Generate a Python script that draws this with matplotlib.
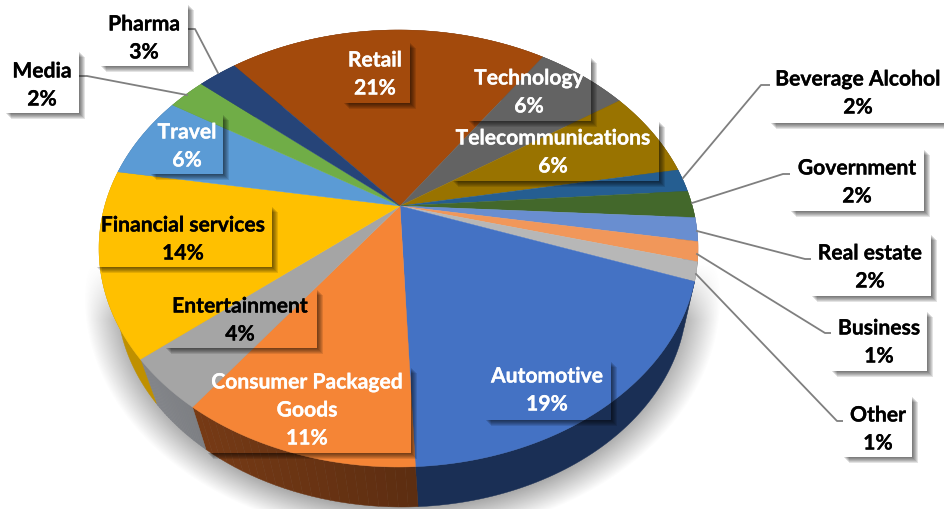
import numpy as np
import matplotlib
matplotlib.use("Agg")
import matplotlib.pyplot as plt
import matplotlib.patheffects as pe
from matplotlib.patches import Polygon, Rectangle

plt.rcParams["font.family"] = ["Lato", "DejaVu Sans"]

# Clockwise from the Retail slice
categories = ["Retail", "Technology", "Telecommunications", "Beverage Alcohol",
              "Government", "Real estate", "Business", "Other", "Automotive",
              "Consumer Packaged\nGoods", "Entertainment", "Financial services",
              "Travel", "Media", "Pharma"]
# Percentages as printed on the labels
percents = [21, 6, 6, 2, 2, 2, 1, 1, 19, 11, 4, 14, 6, 2, 3]
# Slice sizes, before the labels' rounding
values = [20.75, 6.0, 6.5, 1.7, 2.0, 1.75, 1.44, 1.39, 18.8, 10.8, 3.9, 13.7,
          6.2, 2.46, 2.54]

top_colors = ["#A34A0C", "#636363", "#997300", "#255E91", "#43682B", "#698ED0",
              "#F1975A", "#B7B7B7", "#4472C4", "#F58536", "#A5A5A5", "#FFC000",
              "#5B9BD5", "#70AD47", "#264478"]
side_colors = ["#6B300A", "#404040", "#6B5100", "#1A4266", "#2F491E", "#4A6492",
               "#A96A3F", "#808080", "#1A2F55", "#6E3614", "#74767A", "#BF9000",
               "#3F6D95", "#4E7932", "#1A3054"]

# label box: left, top, right, bottom, text centre x, first line y
label_boxes = [
    (343, 43, 410, 104, 375, 60), (468, 58, 591, 122, 529, 78),
    (452, 122, 659, 182, 553, 138), (770, 60, 950, 124, 858, 79),
    (790, 150, 924, 212, 857, 168), (811, 235, 931, 297, 870, 253),
    (831, 312, 927, 372, 879, 328), (843, 397, 912, 458, 878, 415),
    (485, 362, 611, 421, 547, 376), (207, 368, 411, 454, 307, 382),
    (165, 290, 317, 349, 240, 306), (96, 207, 272, 268, 183, 225),
    (150, 115, 223, 175, 187, 132), (5, 52, 79, 114, 42, 71),
    (100, 5, 188, 67, 144, 24),
]
outside = ["Beverage Alcohol", "Government", "Real estate", "Business", "Other",
           "Media", "Pharma"]
white_text = ["Retail", "Technology", "Telecommunications", "Travel",
              "Consumer Packaged\nGoods", "Automotive"]
# These two walls get lighter towards the left of the picture
shaded_walls = ["Consumer Packaged\nGoods", "Entertainment"]

leaders = {
    "Beverage Alcohol": [(683, 179), (761, 86), (772, 86)],
    "Government": [(692, 204), (783, 175), (793, 175)],
    "Real estate": [(697, 232), (805, 260), (815, 260)],
    "Business": [(697, 255), (825, 334), (835, 334)],
    "Other": [(696, 275), (837, 422), (847, 422)],
    "Media": [(187, 96), (87, 77), (76, 77)],
    "Pharma": [(218, 74), (195, 30), (185, 30)],
}

# Ellipse of the pie top and of the lower rim, in pixels
TOP = (398.5, 249.5, 299.5, 218.5)
BOTTOM = (402, 298, 285, 210)
TILT = 42.5 / 218.5
START_ANGLE = 130


def project(angles, ellipse):
    """Map circle angles (degrees) to the tilted pie seen in perspective."""
    cx, cy, a, b = ellipse
    u = np.cos(np.radians(angles))
    v = np.sin(np.radians(angles))
    x = cx + a * np.sqrt(1 - TILT**2) * u / (1 + TILT * v)
    y = cy - b * (v + TILT) / (1 + TILT * v)
    return np.column_stack([x, y])


def draw_shadow(ax, box):
    x0, y0, x1, y1 = box
    for d in range(1, 7):
        pts = [(x1, y0 + d), (x1 + d, y0 + d), (x1 + d, y1 + d),
               (x0 + d, y1 + d), (x0 + d, y1), (x1, y1)]
        ax.add_patch(Polygon(pts, fc="black", ec="none", alpha=0.11, zorder=5))


def draw_wall(ax, name, a0, a1, col):
    if name in shaded_walls:
        # short quads so the colour can change along the wall
        edges = np.linspace(a0, a1, 25)
        for e0, e1 in zip(edges[:-1], edges[1:]):
            arc = np.linspace(e0, e1, 4)
            upper = project(arc, TOP)
            pts = np.vstack([upper, project(arc[::-1], BOTTOM)])
            f = np.interp(upper[:, 0].mean(), [150, 416], [1.12, 0.84])
            shade = np.clip(np.array(matplotlib.colors.to_rgb(col)) * f, 0, 1)
            ax.add_patch(Polygon(pts, fc=shade, ec=shade, lw=0.3, zorder=1))
    else:
        arc = np.linspace(a0, a1, 60)
        pts = np.vstack([project(arc, TOP), project(arc[::-1], BOTTOM)])
        ax.add_patch(Polygon(pts, fc=col, ec=col, lw=0.3, zorder=1))


fig = plt.figure(figsize=(9.45, 5.1), dpi=100)
ax = fig.add_axes([0, 0, 1, 1])

# Soft shadow under the pie
yy, xx = np.mgrid[0:510, 0:945]
r = np.sqrt(((xx - 402) / 318) ** 2 + ((yy - 298) / 240) ** 2)
glow = np.clip((1.0 - r) / 0.15, 0, 1) * np.clip((yy - 265) / 55, 0, 1)
shadow = np.zeros((510, 945, 4))
shadow[..., :3] = 0.45
shadow[..., 3] = 0.75 * glow
ax.imshow(shadow, extent=(0, 945, 510, 0), aspect="auto", zorder=0)

# Slice angles, going clockwise
shares = np.array(values) / sum(values) * 360
ends = START_ANGLE - np.cumsum(shares)
starts = ends + shares

# Side walls first, the tops cover what should stay hidden
for name, a0, a1, col in zip(categories, starts, ends, side_colors):
    draw_wall(ax, name, a0, a1, col)

apex = np.array([[TOP[0] + 1.5, TOP[1] - TILT * TOP[3]]])
for a0, a1, col in zip(starts, ends, top_colors):
    arc = project(np.linspace(a0, a1, 60), TOP)
    ax.add_patch(Polygon(np.vstack([apex, arc]), fc=col, ec=col, lw=0.3, zorder=2))

for name, pts in leaders.items():
    xs, ys = zip(*pts)
    ax.plot(xs, ys, color="#7F7F7F", lw=1.3, zorder=4)

for name, val, lay in zip(categories, percents, label_boxes):
    x0, y0, x1, y1, tx, ty = lay
    draw_shadow(ax, (x0, y0, x1, y1))
    if name in outside:
        ax.add_patch(Rectangle((x0, y0), x1 - x0, y1 - y0, fc="white", ec="none",
                               zorder=6))
    color = "white" if name in white_text else "black"
    lines = name.split("\n") + [f"{val}%"]
    for i, line in enumerate(lines):
        ax.text(tx, ty + 1.5 + i * 28, line, color=color, fontsize=15.2,
                fontweight="bold", ha="center", va="center", zorder=7,
                path_effects=[pe.withStroke(linewidth=0.2, foreground=color)])

ax.set_xlim(0, 945)
ax.set_ylim(510, 0)
ax.axis("off")
fig.savefig("out.png", dpi=100)
